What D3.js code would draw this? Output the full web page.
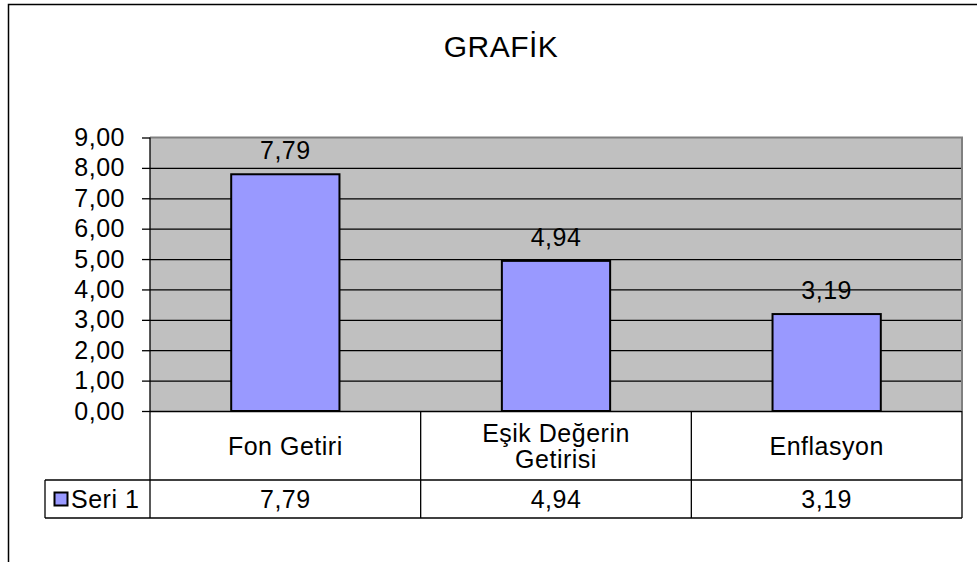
<!DOCTYPE html>
<html>
<head>
<meta charset="utf-8">
<script src="https://cdn.jsdelivr.net/npm/d3@7"></script>
<style>
  body { margin: 0; background: #fff; }
  svg { display: block; font-family: "Liberation Sans", Arial, sans-serif; }
  svg text { letter-spacing: 0.5px; }
</style>
</head>
<body>
<div class="chart"></div>
<script>
// data
var title = "GRAFİK";
var categories = ["Fon Getiri", "Eşik Değerin\nGetirisi", "Enflasyon"];
var seriesName = "Seri 1";
var values = [7.79, 4.94, 3.19];
var yTicks = [0, 1, 2, 3, 4, 5, 6, 7, 8, 9];

var width = 977;
var height = 562;
var fontSize = 25;

var svg = d3.select(".chart").append("svg")
  .attr("width", width)
  .attr("height", height);

// turkse notatie: komma als decimaal
var tr = d3.formatLocale({ decimal: ",", thousands: ".", grouping: [3], currency: ["", " TL"] });
var fmt = tr.format(".2f");

// plotgebied
var plot = { left: 150, top: 137.5, right: 962, bottom: 411 };
var tableRow1 = 480;
var tableRow2 = 518;
var legendLeft = 45;

var x = d3.scaleBand()
  .domain(categories)
  .range([plot.left, plot.right]);

var y = d3.scaleLinear()
  .domain([0, 9])
  .range([plot.bottom, plot.top]);

var barW = x.bandwidth() / 2.5;

// kader rond de hele grafiek
svg.append("rect")
  .attr("x", 8.5)
  .attr("y", 4.5)
  .attr("width", width)
  .attr("height", height)
  .attr("fill", "none")
  .attr("stroke", "#000")
  .attr("stroke-width", 1.5);

// titel
svg.append("text")
  .attr("x", 501)
  .attr("y", 57)
  .attr("text-anchor", "middle")
  .attr("font-size", 30)
  .attr("fill", "#000")
  .text(title);

// grijze achtergrond
svg.append("rect")
  .attr("x", plot.left)
  .attr("y", plot.top)
  .attr("width", plot.right - plot.left)
  .attr("height", plot.bottom - plot.top)
  .attr("fill", "#c0c0c0")
  .attr("stroke", "none");

// rasterlijnen
var grid = svg.append("g")
  .attr("transform", "translate(" + plot.left + ",0)")
  .call(d3.axisLeft(y).tickValues(yTicks.slice(0, -1)).tickSize(-(plot.right - plot.left)).tickFormat(""));
grid.select(".domain").remove();
grid.selectAll("line").attr("stroke", "#000").attr("stroke-width", 1.3);

// rand boven en rechts
svg.append("path")
  .attr("d", "M" + plot.left + "," + plot.top + "H" + plot.right + "V" + plot.bottom)
  .attr("fill", "none")
  .attr("stroke", "#808080")
  .attr("stroke-width", 2);

// staven
svg.selectAll("rect.bar")
  .data(values)
  .enter()
  .append("rect")
  .attr("class", "bar")
  .attr("x", (d, i) => x(categories[i]) + (x.bandwidth() - barW) / 2)
  .attr("y", d => y(d))
  .attr("width", barW)
  .attr("height", d => y(0) - y(d))
  .attr("fill", "#9999ff")
  .attr("stroke", "#000")
  .attr("stroke-width", 2);

// waarden boven de staven
svg.selectAll("text.value")
  .data(values)
  .enter()
  .append("text")
  .attr("class", "value")
  .attr("x", (d, i) => x(categories[i]) + x.bandwidth() / 2)
  .attr("y", d => y(d) - 15)
  .attr("text-anchor", "middle")
  .attr("font-size", fontSize)
  .text(d => fmt(d));

// y-as
var yAxis = svg.append("g")
  .attr("transform", "translate(" + plot.left + ",0)")
  .call(d3.axisLeft(y).tickValues(yTicks).tickSize(8).tickPadding(17).tickFormat(fmt));
yAxis.select(".domain").remove();
yAxis.selectAll("line").attr("stroke", "#000").attr("stroke-width", 1.3);
yAxis.selectAll("text")
  .attr("font-size", fontSize)
  .attr("fill", "#000")
  .attr("font-family", "Liberation Sans, Arial, sans-serif");

// datatabel
var table = svg.append("g")
  .attr("stroke", "#000")
  .attr("stroke-width", 1.3);

table.append("line")
  .attr("x1", plot.left).attr("x2", plot.left)
  .attr("y1", plot.top).attr("y2", tableRow2);

[tableRow1, tableRow2].forEach(function (yy) {
  table.append("line")
    .attr("x1", legendLeft).attr("x2", plot.right)
    .attr("y1", yy).attr("y2", yy);
});

table.append("line")
  .attr("x1", legendLeft).attr("x2", legendLeft)
  .attr("y1", tableRow1).attr("y2", tableRow2);

categories.forEach(function (c) {
  var xr = x(c) + x.bandwidth();
  table.append("line")
    .attr("x1", xr).attr("x2", xr)
    .attr("y1", plot.bottom).attr("y2", tableRow2);
});

// categorienamen (met regeleinde)
svg.selectAll("text.cat")
  .data(categories)
  .enter()
  .append("text")
  .attr("class", "cat")
  .attr("text-anchor", "middle")
  .attr("font-size", fontSize)
  .each(function (d) {
    var lines = d.split("\n");
    var cy = (plot.bottom + tableRow1) / 2 + 9 - (lines.length - 1) * 13;
    var t = d3.select(this);
    lines.forEach(function (l, k) {
      t.append("tspan")
        .attr("x", x(d) + x.bandwidth() / 2)
        .attr("y", cy + k * 26)
        .text(l);
    });
  });

// waarden in de tabel
svg.selectAll("text.cell")
  .data(values)
  .enter()
  .append("text")
  .attr("class", "cell")
  .attr("x", (d, i) => x(categories[i]) + x.bandwidth() / 2)
  .attr("y", (tableRow1 + tableRow2) / 2 + 9)
  .attr("text-anchor", "middle")
  .attr("font-size", fontSize)
  .text(d => fmt(d));

// legendesleutel
svg.append("rect")
  .attr("x", 54.5)
  .attr("y", 492.5)
  .attr("width", 13)
  .attr("height", 13)
  .attr("fill", "#9999ff")
  .attr("stroke", "#000")
  .attr("stroke-width", 2);

svg.append("text")
  .attr("x", 71)
  .attr("y", (tableRow1 + tableRow2) / 2 + 9)
  .attr("font-size", fontSize)
  .text(seriesName);
</script>
</body>
</html>
